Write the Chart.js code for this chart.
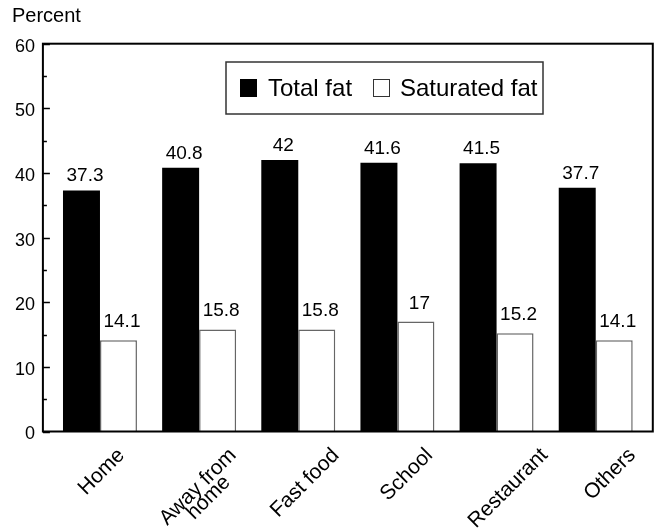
<!DOCTYPE html>
<html>
<head>
<meta charset="utf-8">
<script src="https://cdn.jsdelivr.net/npm/chart.js@4.4.1/dist/chart.umd.min.js"></script>
<style>
  html, body { margin: 0; padding: 0; background: #fff; }
  #wrap { width: 656px; height: 531px; }
</style>
</head>
<body>
<div id="wrap"><canvas id="c" width="656" height="531"></canvas></div>
<script>
// Share of energy from fat, by where the food was obtained
const categories = ['Home', ['Away from', 'home'], 'Fast food', 'School', 'Restaurant', 'Others'];
const totalFat = [37.3, 40.8, 42, 41.6, 41.5, 37.7];
const saturatedFat = [14.1, 15.8, 15.8, 17, 15.2, 14.1];
const yTicks = [0, 10, 20, 30, 40, 50, 60];

const FONT = '"Liberation Sans", Arial, Helvetica, sans-serif';

// Box frame around the plot with inward tick marks on the value axis
const framePlugin = {
  id: 'frame',
  afterDatasetsDraw(chart) {
    const { ctx, chartArea: a, scales: { y } } = chart;
    const left = a.left - 7.5, right = a.right + 7.5;
    ctx.save();
    ctx.strokeStyle = '#000';
    ctx.lineWidth = 2;
    ctx.strokeRect(left, a.top, right - left, a.bottom - a.top);
    ctx.lineWidth = 1.5;
    for (let v = 0; v <= 60; v += 5) {
      const py = Math.round(y.getPixelForValue(v)) + 0.5;
      const len = v % 10 === 0 ? 7 : 4;
      ctx.beginPath();
      ctx.moveTo(left, py);
      ctx.lineTo(left + len, py);
      ctx.stroke();
    }
    ctx.restore();
  }
};

// Value printed above every bar
const valueLabels = {
  id: 'valueLabels',
  afterDatasetsDraw(chart) {
    const { ctx } = chart;
    ctx.save();
    ctx.font = '19px ' + FONT;
    ctx.fillStyle = '#000';
    ctx.textAlign = 'center';
    ctx.textBaseline = 'alphabetic';
    chart.data.datasets.forEach((ds, di) => {
      const meta = chart.getDatasetMeta(di);
      const gap = di === 0 ? 9 : 13;
      meta.data.forEach((bar, i) => {
        ctx.fillText(String(ds.data[i]), bar.x + 3.5, bar.y - gap);
      });
    });
    ctx.restore();
  }
};

// Slanted category names, bounding box centred under each slot
const slantedLabels = {
  id: 'slantedLabels',
  afterDraw(chart) {
    const { ctx, chartArea: a } = chart;
    const left = a.left - 7.5, right = a.right + 7.5;
    const slot = (right - left) / categories.length;
    const lineH = 15, top = 445, c = Math.SQRT1_2;
    ctx.save();
    ctx.font = '21px ' + FONT;
    ctx.fillStyle = '#000';
    ctx.textAlign = 'center';
    ctx.textBaseline = 'middle';
    chart.data.labels.forEach((lab, i) => {
      const lines = Array.isArray(lab) ? lab : [lab];
      const w = Math.max(...lines.map(t => ctx.measureText(t).width));
      const h = lines.length * lineH + 5;
      const cx = left + (i + 0.5) * slot + 8;
      const cy = top + (w + h) * c / 2;
      ctx.save();
      ctx.translate(cx, cy);
      ctx.rotate(-Math.PI / 4);
      lines.forEach((t, k) => {
        ctx.fillText(t, 0, (k - (lines.length - 1) / 2) * lineH);
      });
      ctx.restore();
    });
    ctx.restore();
  }
};

// Boxed legend inside the plot area
const boxLegend = {
  id: 'boxLegend',
  afterDraw(chart) {
    const { ctx } = chart;
    const ds = chart.data.datasets;
    ctx.save();
    ctx.strokeStyle = '#333';
    ctx.lineWidth = 1.5;
    ctx.fillStyle = '#fff';
    ctx.fillRect(226, 62, 317, 52);
    ctx.strokeRect(226, 62, 317, 52);
    const items = [{ sx: 240, tx: 268 }, { sx: 373, tx: 400 }];
    ctx.font = '24px ' + FONT;
    ctx.textBaseline = 'middle';
    ctx.textAlign = 'left';
    items.forEach((it, k) => {
      ctx.fillStyle = ds[k].backgroundColor;
      ctx.fillRect(it.sx, 79, 17, 18);
      ctx.strokeStyle = k === 0 ? '#000' : '#333';
      ctx.lineWidth = 1;
      ctx.strokeRect(it.sx + 0.5, 79.5, 16, 17);
      ctx.fillStyle = '#000';
      ctx.fillText(ds[k].label, it.tx, 89);
    });
    ctx.restore();
  }
};

// Axis caption above the value axis
const axisCaption = {
  id: 'axisCaption',
  afterDraw(chart) {
    const { ctx } = chart;
    ctx.save();
    ctx.font = '20px ' + FONT;
    ctx.fillStyle = '#000';
    ctx.textAlign = 'left';
    ctx.textBaseline = 'alphabetic';
    ctx.fillText('Percent', 12, 22);
    ctx.restore();
  }
};

new Chart(document.getElementById('c'), {
  type: 'bar',
  data: {
    labels: categories,
    datasets: [
      {
        label: 'Total fat',
        data: totalFat,
        backgroundColor: '#000',
        borderColor: '#000',
        borderWidth: 0,
        categoryPercentage: 0.746,
        barPercentage: 1
      },
      {
        label: 'Saturated fat',
        data: saturatedFat,
        backgroundColor: '#fff',
        borderColor: '#666',
        borderWidth: 1.5,
        categoryPercentage: 0.746,
        barPercentage: 1
      }
    ]
  },
  options: {
    responsive: false,
    animation: false,
    devicePixelRatio: 1,
    layout: { padding: { left: 0, right: 10.7, top: 43.7, bottom: 99.5 } },
    plugins: {
      legend: { display: false },
      tooltip: { enabled: false }
    },
    scales: {
      x: {
        display: false,
        grid: { display: false }
      },
      y: {
        min: 0,
        max: 60,
        afterBuildTicks(scale) {
          scale.ticks = yTicks.map(v => ({ value: v }));
        },
        afterFit(scale) { scale.width = 50.4; },
        grid: { display: false, drawTicks: false },
        border: { display: false },
        ticks: {
          padding: 15.4,
          labelOffset: 3,
          color: '#000',
          font: { family: FONT, size: 18 }
        }
      }
    }
  },
  plugins: [framePlugin, valueLabels, slantedLabels, boxLegend, axisCaption]
});
</script>
</body>
</html>
